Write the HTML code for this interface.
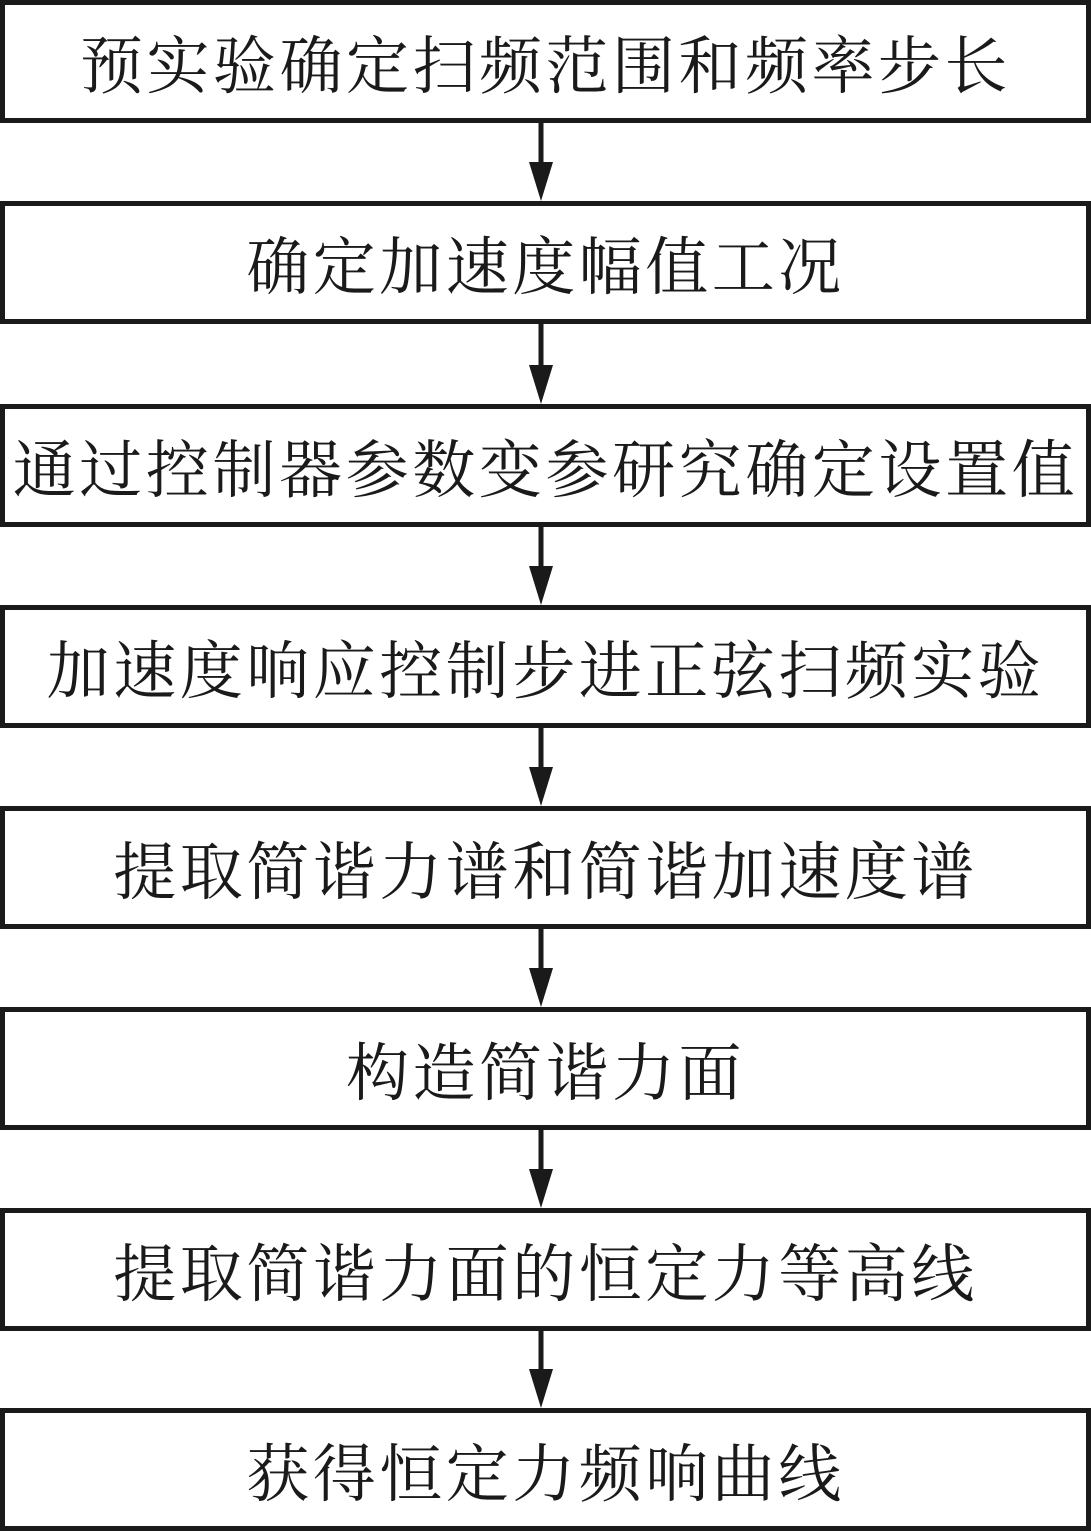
<!DOCTYPE html>
<html><head><meta charset="utf-8"><style>
html,body{margin:0;padding:0;background:#fff;}
body{width:1091px;height:1531px;position:relative;overflow:hidden;}
.b{position:absolute;left:0;width:1091px;height:123px;box-sizing:border-box;border:5px solid #1a1a1a;
display:flex;align-items:center;justify-content:center;
font-family:"Liberation Serif","Noto Serif CJK SC",serif;font-size:63px;color:#1a1a1a;white-space:nowrap;letter-spacing:3.5px;}
svg{position:absolute;left:0;top:0;}
</style></head><body>
<div class="b" style="top:0px">预实验确定扫频范围和频率步长</div>
<div class="b" style="top:201px">确定加速度幅值工况</div>
<div class="b" style="top:404px;letter-spacing:3.6px">通过控制器参数变参研究确定设置值</div>
<div class="b" style="top:605px">加速度响应控制步进正弦扫频实验</div>
<div class="b" style="top:806px">提取简谐力谱和简谐加速度谱</div>
<div class="b" style="top:1007px">构造简谐力面</div>
<div class="b" style="top:1208px">提取简谐力面的恒定力等高线</div>
<div class="b" style="top:1408px">获得恒定力频响曲线</div>
<svg width="1091" height="1531">
<g fill="#1a1a1a" stroke="#1a1a1a">
<line x1="541" y1="122" x2="541" y2="165" stroke-width="5"/><polygon points="529,162 553,162 541,201" stroke="none"/>
<line x1="541" y1="323" x2="541" y2="368" stroke-width="5"/><polygon points="529,365 553,365 541,404" stroke="none"/>
<line x1="541" y1="526" x2="541" y2="569" stroke-width="5"/><polygon points="529,566 553,566 541,605" stroke="none"/>
<line x1="541" y1="727" x2="541" y2="770" stroke-width="5"/><polygon points="529,767 553,767 541,806" stroke="none"/>
<line x1="541" y1="928" x2="541" y2="971" stroke-width="5"/><polygon points="529,968 553,968 541,1007" stroke="none"/>
<line x1="541" y1="1129" x2="541" y2="1172" stroke-width="5"/><polygon points="529,1169 553,1169 541,1208" stroke="none"/>
<line x1="541" y1="1330" x2="541" y2="1372" stroke-width="5"/><polygon points="529,1369 553,1369 541,1408" stroke="none"/>
</g></svg>
</body></html>
